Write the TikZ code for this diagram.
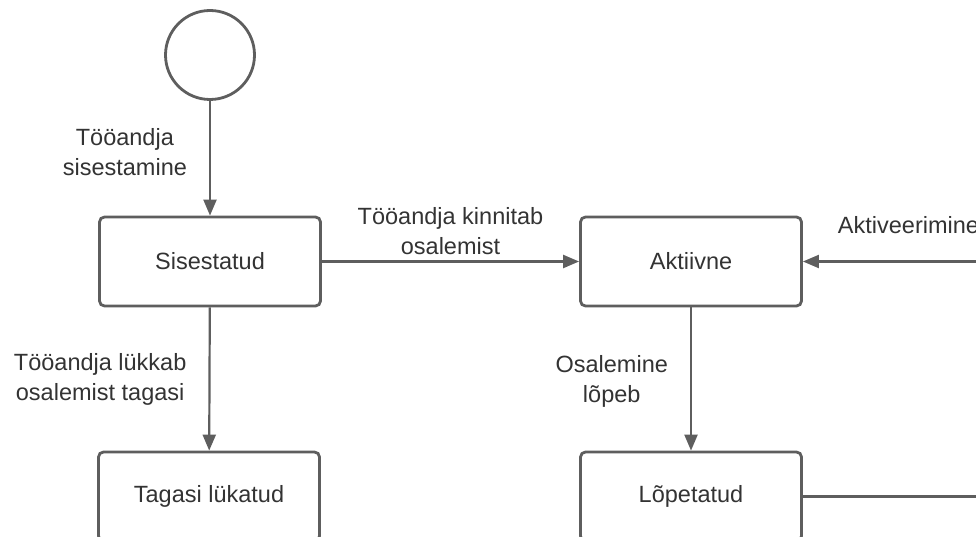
\documentclass[tikz,border=0pt]{standalone}
\usepackage{fontspec}
\setmainfont{Liberation Sans}
\usepackage{xcolor}
\usetikzlibrary{arrows.meta}

\definecolor{linegray}{HTML}{5E5E5E}
\definecolor{textgray}{HTML}{333333}

\begin{document}
\begin{tikzpicture}[x=1pt, y=-1pt,
    state/.style={draw=linegray, line width=2.8pt, rounded corners=5pt, minimum width=221pt, minimum height=89pt, text=textgray, font=\fontsize{23.5}{30}\selectfont},
    lbl/.style={text=textgray, align=center, inner sep=0pt, font=\fontsize{23.5}{30}\selectfont},
    arr/.style={-{Triangle[length=16pt, width=13pt]}, draw=linegray, line width=2.2pt}]
    \useasboundingbox (0,0) rectangle (976,537);
    \clip (0,0) rectangle (976,537);

    \node[draw=linegray, line width=2.8pt, circle, minimum size=89pt] (start) at (210,55) {};
    \node[state] (sis) at (210,261.5) {Sisestatud};
    \node[state] (akt) at (691,261.5) {Aktiivne};
    \node[state] (tag) at (209,496.5) {Tagasi lükatud};
    \node[state] (lop) at (691,496.5) {Lõpetatud};
    \coordinate (aktin) at (976,261.5);
    \coordinate (lopout) at (976,496.5);

    \draw[arr] (start) -- node[lbl, left=22pt, yshift=6pt] {Tööandja\\sisestamine} (sis);
    \draw[arr] (sis) -- node[lbl, above=6pt] {Tööandja kinnitab\\osalemist} (akt);
    \draw[arr] (sis) -- node[lbl, left=22pt] {Tööandja lükkab\\osalemist tagasi} (tag);
    \draw[arr] (akt) -- node[lbl, left=22pt, yshift=-2pt] {Osalemine\\lõpeb} (lop);
    \draw[arr] (aktin) -- node[lbl, pos=0.39, above=27pt] {Aktiveerimine} (akt);
    \draw[draw=linegray, line width=2.2pt] (lop) -- (lopout);
\end{tikzpicture}
\end{document}
